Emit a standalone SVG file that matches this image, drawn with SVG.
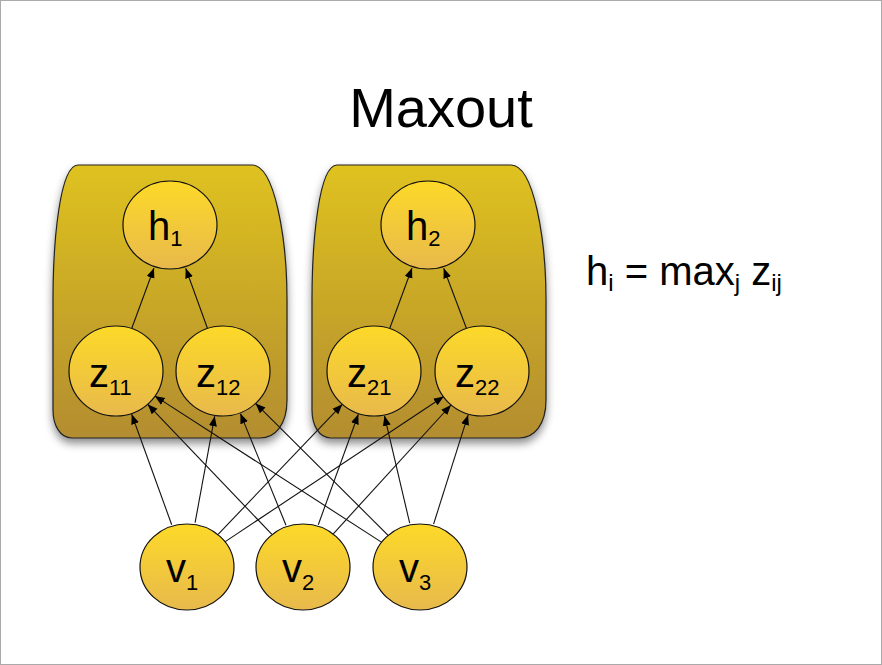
<svg xmlns="http://www.w3.org/2000/svg" width="882" height="665" viewBox="0 0 882 665">
<defs>
<linearGradient id="ng" x1="0" y1="0" x2="0" y2="1"><stop offset="0" stop-color="#FDD928"/><stop offset="1" stop-color="#E8B94C"/></linearGradient>
<linearGradient id="bg" x1="0" y1="0" x2="0" y2="1"><stop offset="0" stop-color="#DFC21F"/><stop offset="1" stop-color="#B38D30"/></linearGradient>
<filter id="sh" x="-20%" y="-20%" width="140%" height="140%"><feDropShadow dx="0" dy="5" stdDeviation="4" flood-color="#000" flood-opacity="0.45"/></filter>
<marker id="ar" viewBox="0 0 10 10" refX="10" refY="5" markerWidth="10" markerHeight="10" markerUnits="userSpaceOnUse" orient="auto"><path d="M0,1 L10,5 L0,9 Z" fill="#000"/></marker>
</defs>
<style>
.box{fill:url(#bg);stroke:#222;stroke-width:1.2;filter:url(#sh)}
.n{fill:url(#ng);stroke:#111;stroke-width:1.2}
.t{font-family:"Liberation Sans",Arial,sans-serif;fill:#000}
.lbl{font-size:40px}
.sub{font-size:22px}
.e line{stroke:#111;stroke-width:1.1;marker-end:url(#ar)}
</style>
<rect x="0.5" y="0.5" width="881" height="664" fill="#fff" stroke="#aaa"/>
<text class="t" x="441" y="127" font-size="56" text-anchor="middle">Maxout</text>
<text class="t" x="586" y="285" font-size="40">h<tspan font-size="24" dy="6">i</tspan><tspan dy="-6"> = max</tspan><tspan font-size="24" dy="6">j</tspan><tspan dy="-6"> z</tspan><tspan font-size="24" dy="6">ij</tspan></text>
<g id="box1"><path class="box" d="M78,165 H252 C275,165 287,240 287,300 V400 C287,425 275,438 260,438 H72 C60,438 53,425 53,410 V300 C53,240 60,165 78,165 Z"/></g>
<g id="box2"><path class="box" transform="translate(259,0)" d="M78,165 H252 C275,165 287,240 287,300 V400 C287,425 275,438 260,438 H72 C60,438 53,425 53,410 V300 C53,240 60,165 78,165 Z"/></g>
<g class="e" id="connectors">
<line x1="171.7" y1="524.7" x2="131.7" y2="414.2"/>
<line x1="195.1" y1="522.7" x2="214.7" y2="416.2"/>
<line x1="218.1" y1="534.4" x2="342.3" y2="404.3"/>
<line x1="224.5" y1="542.1" x2="443.7" y2="396.5"/>
<line x1="271.9" y1="534.4" x2="147.7" y2="404.3"/>
<line x1="286" y1="525.3" x2="240.4" y2="413.6"/>
<line x1="318.3" y1="524.7" x2="358.3" y2="414.2"/>
<line x1="333.3" y1="533.8" x2="451" y2="405"/>
<line x1="382.2" y1="542.6" x2="154.7" y2="395.9"/>
<line x1="388.1" y1="535.3" x2="255.6" y2="403.4"/>
<line x1="409.7" y1="523.2" x2="384.5" y2="415.8"/>
<line x1="433.6" y1="524.1" x2="468.1" y2="414.9"/>
<line x1="131.6" y1="328.8" x2="154" y2="268"/>
<line x1="207.6" y1="328.7" x2="185.7" y2="268.2"/>
<line x1="389.6" y1="328.8" x2="412" y2="268"/>
<line x1="466.6" y1="328.7" x2="443.7" y2="268.2"/>
</g>
<g id="h1"><ellipse class="n" cx="170" cy="225" rx="47" ry="44"/><text class="t lbl" x="148" y="240">h<tspan class="sub" dy="6">1</tspan></text></g>
<g id="h2"><ellipse class="n" cx="428" cy="225" rx="47" ry="44"/><text class="t lbl" x="406" y="240">h<tspan class="sub" dy="6">2</tspan></text></g>
<g id="z11"><ellipse class="n" cx="116" cy="371" rx="47" ry="45"/><text class="t lbl" x="89" y="387">z<tspan class="sub" dy="8">11</tspan></text></g>
<g id="z12"><ellipse class="n" cx="223" cy="371" rx="47" ry="45"/><text class="t lbl" x="196" y="387">z<tspan class="sub" dy="8">12</tspan></text></g>
<g id="z21"><ellipse class="n" cx="374" cy="371" rx="47" ry="45"/><text class="t lbl" x="347" y="387">z<tspan class="sub" dy="8">21</tspan></text></g>
<g id="z22"><ellipse class="n" cx="482" cy="371" rx="47" ry="45"/><text class="t lbl" x="455" y="387">z<tspan class="sub" dy="8">22</tspan></text></g>
<g id="v1"><ellipse class="n" cx="187" cy="567" rx="47" ry="43"/><text class="t lbl" x="166" y="582">v<tspan class="sub" dy="8">1</tspan></text></g>
<g id="v2"><ellipse class="n" cx="303" cy="567" rx="47" ry="43"/><text class="t lbl" x="282" y="582">v<tspan class="sub" dy="8">2</tspan></text></g>
<g id="v3"><ellipse class="n" cx="420" cy="567" rx="47" ry="43"/><text class="t lbl" x="399" y="582">v<tspan class="sub" dy="8">3</tspan></text></g>
</svg>
